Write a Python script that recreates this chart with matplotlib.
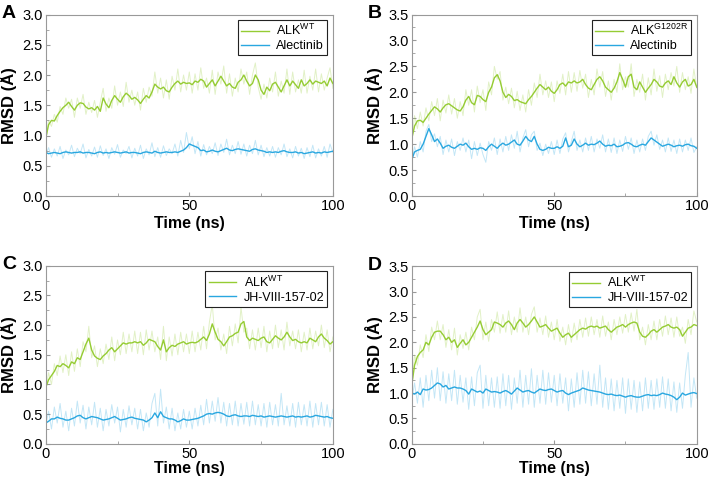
import numpy as np
import matplotlib.pyplot as plt
from matplotlib.ticker import MultipleLocator

plt.rcParams['font.family'] = ['Liberation Sans', 'DejaVu Sans']

# Smoothed (dark) traces, one value per ns, 0..100 ns
a_wt_avg = [0.95, 1.18, 1.25, 1.24, 1.33, 1.40, 1.46, 1.50, 1.55, 1.48,
            1.42, 1.50, 1.54, 1.53, 1.47, 1.44, 1.46, 1.42, 1.48, 1.40,
            1.62, 1.52, 1.46, 1.58, 1.66, 1.60, 1.55, 1.64, 1.70, 1.66,
            1.60, 1.63, 1.59, 1.53, 1.60, 1.66, 1.62, 1.72, 1.85, 1.80,
            1.77, 1.80, 1.74, 1.72, 1.80, 1.86, 1.90, 1.85, 1.88, 1.86,
            1.87, 1.84, 1.90, 1.88, 1.93, 1.90, 1.80, 1.86, 1.92, 1.82,
            1.90, 1.98, 1.90, 1.82, 1.86, 1.80, 1.78, 1.88, 1.92, 2.00,
            1.90, 1.82, 1.86, 2.00, 1.92, 1.75, 1.68, 1.80, 1.74, 1.85,
            1.88, 1.80, 1.72, 1.82, 1.92, 1.82, 1.90, 1.84, 1.78, 1.92,
            1.82, 1.86, 1.92, 1.85, 1.90, 1.88, 1.86, 1.90, 1.82, 1.95,
            1.86]
a_lig_avg = [0.72, 0.70, 0.71, 0.72, 0.71, 0.70, 0.72, 0.73, 0.72, 0.71,
             0.72, 0.72, 0.73, 0.71, 0.72, 0.72, 0.71, 0.70, 0.72, 0.73,
             0.71, 0.72, 0.71, 0.72, 0.73, 0.72, 0.71, 0.72, 0.73, 0.71,
             0.72, 0.72, 0.71, 0.70, 0.72, 0.73, 0.72, 0.71, 0.74, 0.72,
             0.71, 0.72, 0.73, 0.72, 0.72, 0.73, 0.72, 0.74, 0.76, 0.80,
             0.86, 0.84, 0.82, 0.80, 0.75, 0.76, 0.73, 0.74, 0.76, 0.74,
             0.73, 0.75, 0.77, 0.79, 0.76, 0.75, 0.77, 0.78, 0.77, 0.76,
             0.75, 0.74, 0.77, 0.78, 0.76, 0.75, 0.74, 0.72, 0.73, 0.72,
             0.73, 0.72, 0.74, 0.75, 0.73, 0.72, 0.72, 0.73, 0.71, 0.72,
             0.70, 0.71, 0.72, 0.73, 0.71, 0.72, 0.71, 0.73, 0.72, 0.73,
             0.74]
b_mut_avg = [1.10, 1.35, 1.45, 1.46, 1.42, 1.50, 1.58, 1.65, 1.72, 1.68,
             1.62, 1.70, 1.76, 1.78, 1.74, 1.70, 1.66, 1.64, 1.72, 1.85,
             1.92, 1.80, 1.76, 1.94, 1.92, 1.86, 1.82, 2.00, 2.10, 2.28,
             2.34, 2.22, 2.00, 1.90, 1.96, 1.92, 1.84, 1.86, 1.82, 1.80,
             1.78, 1.86, 1.92, 2.00, 2.08, 2.15, 2.10, 2.05, 2.10, 2.02,
             1.98, 2.05, 2.15, 2.18, 2.12, 2.20, 2.18, 2.22, 2.18, 2.20,
             2.25, 2.15, 2.08, 2.05, 2.15, 2.25, 2.30, 2.22, 2.10, 2.05,
             2.00, 2.08, 2.20, 2.38, 2.25, 2.10, 2.30, 2.35, 2.10, 2.05,
             2.20, 2.10, 2.00, 2.08, 2.15, 2.25, 2.20, 2.12, 2.10, 2.18,
             2.22, 2.15, 2.30, 2.18, 2.10, 2.20, 2.25, 2.12, 2.15, 2.25,
             2.10]
b_lig_avg = [0.70, 0.85, 0.88, 0.90, 1.00, 1.15, 1.30, 1.18, 1.05, 1.10,
             1.02, 0.92, 0.96, 0.98, 0.94, 0.92, 0.96, 1.00, 0.98, 1.02,
             0.95, 0.90, 0.92, 0.90, 0.93, 0.92, 0.88, 0.95, 1.00, 0.96,
             0.92, 0.98, 1.02, 0.98, 1.00, 1.04, 1.08, 1.00, 0.98, 1.06,
             1.15, 1.08, 1.05, 1.15, 1.00, 0.90, 0.88, 0.90, 0.94, 0.92,
             0.92, 0.95, 0.92, 0.96, 1.12, 0.95, 0.98, 1.10, 1.00, 0.95,
             0.98, 1.02, 0.98, 1.00, 0.99, 1.02, 1.06, 1.00, 0.96, 0.98,
             0.97, 1.00, 0.95, 0.96, 0.98, 1.02, 1.03, 1.00, 0.96, 0.95,
             0.98, 1.00, 0.98, 1.05, 1.12, 1.08, 1.04, 1.00, 0.96, 0.98,
             1.00, 0.98, 0.95, 0.97, 0.98, 0.96, 0.99, 1.00, 0.97, 0.96,
             0.92]
c_wt_avg = [0.95, 1.08, 1.15, 1.22, 1.32, 1.30, 1.35, 1.32, 1.28, 1.38,
            1.35, 1.45, 1.42, 1.55, 1.68, 1.78, 1.58, 1.48, 1.44, 1.42,
            1.48, 1.52, 1.58, 1.62, 1.55, 1.60, 1.65, 1.70, 1.68, 1.70,
            1.70, 1.72, 1.70, 1.72, 1.66, 1.70, 1.76, 1.74, 1.72, 1.64,
            1.58, 1.75, 1.55, 1.62, 1.66, 1.64, 1.68, 1.70, 1.72, 1.68,
            1.70, 1.71, 1.70, 1.72, 1.76, 1.80, 1.74, 1.85, 2.02, 1.88,
            1.76, 1.72, 1.65, 1.72, 1.80, 1.82, 1.86, 1.88, 2.02, 2.06,
            1.80, 1.74, 1.78, 1.76, 1.74, 1.78, 1.80, 1.72, 1.70, 1.76,
            1.82, 1.78, 1.75, 1.80, 1.88, 1.80, 1.74, 1.76, 1.72, 1.70,
            1.72, 1.70, 1.78, 1.75, 1.72, 1.80, 1.85, 1.78, 1.74, 1.68,
            1.72]
c_lig_avg = [0.35, 0.38, 0.42, 0.42, 0.45, 0.43, 0.42, 0.40, 0.40, 0.42,
             0.44, 0.47, 0.48, 0.44, 0.42, 0.44, 0.46, 0.45, 0.44, 0.42,
             0.40, 0.41, 0.42, 0.44, 0.46, 0.43, 0.40, 0.41, 0.42, 0.44,
             0.45, 0.43, 0.42, 0.41, 0.40, 0.37, 0.40, 0.44, 0.52, 0.44,
             0.54, 0.46, 0.44, 0.42, 0.42, 0.40, 0.37, 0.39, 0.42, 0.40,
             0.40, 0.41, 0.42, 0.43, 0.45, 0.47, 0.50, 0.51, 0.50, 0.52,
             0.53, 0.52, 0.50, 0.47, 0.46, 0.48, 0.49, 0.47, 0.46, 0.47,
             0.47, 0.46, 0.48, 0.47, 0.46, 0.47, 0.45, 0.46, 0.47, 0.46,
             0.45, 0.46, 0.47, 0.46, 0.45, 0.46, 0.47, 0.45, 0.46, 0.45,
             0.46, 0.47, 0.45, 0.46, 0.48, 0.47, 0.46, 0.45, 0.46, 0.44,
             0.43]
d_wt_avg = [1.15, 1.55, 1.72, 1.80, 1.85, 2.00, 1.95, 2.10, 2.20, 2.22,
            2.22, 2.15, 2.05, 2.10, 2.00, 2.05, 1.90, 1.98, 2.05, 1.95,
            2.00, 2.10, 2.20, 2.30, 2.42, 2.25, 2.15, 2.20, 2.25, 2.40,
            2.38, 2.35, 2.30, 2.38, 2.42, 2.35, 2.25, 2.38, 2.45, 2.38,
            2.30, 2.35, 2.42, 2.50, 2.40, 2.30, 2.32, 2.35, 2.28, 2.22,
            2.25, 2.28, 2.18, 2.10, 2.15, 2.18, 2.10, 2.15, 2.20, 2.25,
            2.28, 2.26, 2.30, 2.32, 2.30, 2.32, 2.28, 2.30, 2.32, 2.25,
            2.20, 2.25, 2.30, 2.32, 2.35, 2.30, 2.35, 2.38, 2.40, 2.38,
            2.20, 2.12, 2.10, 2.15, 2.22, 2.25, 2.20, 2.25, 2.30, 2.32,
            2.35, 2.30, 2.28, 2.30, 2.25, 2.12, 2.20, 2.28, 2.30, 2.35,
            2.33]
d_lig_avg = [1.00, 0.98, 1.02, 0.97, 1.08, 1.06, 1.07, 1.10, 1.15, 1.20,
             1.18, 1.12, 1.15, 1.08, 1.10, 1.12, 1.10, 1.10, 1.08, 1.05,
             0.98, 1.08, 1.05, 1.02, 1.04, 1.00, 1.08, 1.05, 1.02, 1.03,
             1.02, 1.00, 1.03, 1.05, 1.02, 0.98, 1.04, 1.10, 1.06, 1.02,
             1.04, 1.05, 1.02, 1.00, 1.04, 1.08, 1.06, 1.05, 1.07, 1.08,
             1.05, 1.02, 1.04, 1.05, 1.00, 0.97, 1.00, 1.02, 1.04, 1.06,
             1.10, 1.08, 1.06, 1.05, 1.04, 1.03, 1.02, 1.00, 0.98, 0.97,
             0.98, 0.96, 0.95, 0.96, 0.94, 0.92, 0.94, 0.95, 0.93, 0.92,
             0.92, 0.94, 0.96, 0.97, 0.95, 0.96, 0.95, 0.97, 1.00, 0.98,
             0.97, 0.95, 0.92, 0.87, 0.92, 1.00, 0.96, 0.98, 1.00, 1.01,
             0.99]

# Raw (faint) traces, one frame per ns
a_wt_raw = [0.90, 1.25, 1.15, 1.35, 1.22, 1.48, 1.35, 1.62, 1.45, 1.60,
            1.30, 1.62, 1.45, 1.68, 1.35, 1.55, 1.38, 1.58, 1.30, 1.55,
            1.78, 1.40, 1.62, 1.45, 1.82, 1.50, 1.72, 1.48, 1.88, 1.55,
            1.75, 1.50, 1.72, 1.42, 1.78, 1.55, 1.80, 1.65, 2.05, 1.70,
            1.95, 1.62, 1.92, 1.60, 1.98, 1.75, 2.10, 1.72, 2.00, 1.75,
            2.05, 1.70, 2.02, 1.75, 2.12, 1.78, 1.95, 1.70, 2.08, 1.68,
            2.05, 1.85, 2.15, 1.70, 2.02, 1.65, 1.95, 1.72, 2.10, 1.85,
            2.05, 1.68, 2.00, 2.20, 1.80, 1.60, 1.85, 1.62, 1.95, 1.72,
            2.05, 1.65, 1.90, 1.70, 2.10, 1.68, 2.05, 1.72, 1.92, 1.70,
            2.08, 1.70, 1.98, 1.75, 2.10, 1.72, 2.02, 1.75, 1.95, 2.12,
            1.78]
a_lig_raw = [0.68, 0.80, 0.64, 0.78, 0.66, 0.82, 0.62, 0.76, 0.68, 0.84,
             0.65, 0.79, 0.70, 0.86, 0.63, 0.77, 0.66, 0.81, 0.64, 0.83,
             0.67, 0.78, 0.62, 0.80, 0.69, 0.85, 0.64, 0.76, 0.70, 0.82,
             0.63, 0.79, 0.66, 0.84, 0.62, 0.78, 0.68, 0.88, 0.65, 0.80,
             0.64, 0.83, 0.67, 0.78, 0.70, 0.86, 0.66, 0.92, 0.72, 1.05,
             0.78, 0.98, 0.70, 0.90, 0.66, 0.85, 0.68, 0.82, 0.70, 0.88,
             0.67, 0.86, 0.72, 0.94, 0.68, 0.84, 0.70, 0.90, 0.69, 0.86,
             0.66, 0.84, 0.70, 0.92, 0.68, 0.84, 0.65, 0.80, 0.66, 0.82,
             0.64, 0.80, 0.68, 0.86, 0.65, 0.78, 0.63, 0.82, 0.66, 0.79,
             0.62, 0.80, 0.65, 0.84, 0.63, 0.78, 0.66, 0.82, 0.64, 0.86,
             0.72]
b_mut_raw = [1.05, 1.55, 1.30, 1.62, 1.35, 1.70, 1.45, 1.82, 1.55, 1.88,
             1.45, 1.85, 1.60, 1.95, 1.58, 1.88, 1.50, 1.82, 1.55, 2.05,
             1.75, 2.05, 1.62, 2.12, 1.80, 2.05, 1.65, 2.20, 1.95, 2.50,
             2.25, 2.40, 1.85, 2.10, 1.78, 2.08, 1.70, 2.02, 1.65, 1.95,
             1.62, 2.05, 1.75, 2.18, 1.90, 2.35, 1.95, 2.22, 1.90, 2.20,
             1.82, 2.22, 1.98, 2.35, 1.95, 2.40, 2.00, 2.38, 2.02, 2.42,
             2.08, 2.35, 1.90, 2.25, 1.95, 2.45, 2.10, 2.40, 1.92, 2.22,
             1.85, 2.25, 2.00, 2.55, 2.05, 2.30, 2.10, 2.55, 1.92, 2.25,
             2.00, 2.35, 1.85, 2.28, 1.95, 2.45, 2.02, 2.32, 1.90, 2.35,
             2.05, 2.38, 2.12, 2.50, 2.00, 2.38, 2.05, 2.30, 1.98, 2.45,
             2.08]
b_lig_raw = [0.65, 0.95, 0.75, 1.05, 0.85, 1.25, 1.38, 1.05, 1.20, 0.95,
             1.15, 0.80, 1.08, 0.85, 1.10, 0.78, 1.05, 0.88, 1.12, 0.85,
             1.08, 0.72, 1.05, 0.78, 1.02, 0.80, 0.65, 1.05, 0.88, 1.12,
             0.80, 1.10, 0.85, 1.15, 0.88, 1.18, 0.92, 1.25, 0.85, 1.12,
             1.28, 0.95, 1.18, 1.25, 0.88, 1.02, 0.78, 1.00, 0.82, 1.05,
             0.80, 1.08, 0.82, 1.10, 1.22, 0.85, 1.05, 1.25, 0.88, 1.08,
             0.85, 1.12, 0.88, 1.15, 0.85, 1.10, 0.92, 1.18, 0.85, 1.10,
             0.84, 1.12, 0.82, 1.08, 0.86, 1.15, 0.90, 1.12, 0.82, 1.08,
             0.85, 1.10, 0.88, 1.15, 1.25, 0.98, 1.18, 0.90, 1.08, 0.85,
             1.12, 0.86, 1.08, 0.82, 1.10, 0.85, 1.08, 0.88, 1.12, 0.84,
             0.95]
c_wt_raw = [0.90, 1.20, 1.00, 1.35, 1.15, 1.48, 1.20, 1.50, 1.15, 1.55,
            1.22, 1.60, 1.30, 1.72, 1.55, 1.98, 1.45, 1.65, 1.30, 1.60,
            1.35, 1.68, 1.42, 1.80, 1.40, 1.75, 1.50, 1.88, 1.52, 1.85,
            1.55, 1.90, 1.52, 1.88, 1.50, 1.92, 1.58, 1.90, 1.55, 1.80,
            1.42, 1.98, 1.40, 1.80, 1.48, 1.85, 1.50, 1.88, 1.55, 1.85,
            1.52, 1.90, 1.55, 1.88, 1.58, 1.98, 1.60, 2.05, 2.35, 1.75,
            1.95, 1.58, 1.85, 1.52, 1.98, 1.65, 2.02, 1.70, 2.30, 1.88,
            1.95, 1.60, 1.92, 1.58, 1.95, 1.62, 1.98, 1.55, 1.90, 1.60,
            2.00, 1.62, 1.92, 1.58, 2.05, 1.65, 1.90, 1.60, 1.92, 1.55,
            1.88, 1.58, 1.95, 1.60, 1.90, 1.65, 2.00, 1.62, 1.92, 1.55,
            1.80]
c_lig_raw = [0.30, 0.55, 0.25, 0.62, 0.35, 0.68, 0.28, 0.55, 0.22, 0.60,
             0.30, 0.72, 0.35, 0.65, 0.25, 0.62, 0.32, 0.70, 0.28, 0.60,
             0.22, 0.58, 0.30, 0.66, 0.35, 0.62, 0.20, 0.58, 0.28, 0.64,
             0.32, 0.60, 0.25, 0.58, 0.22, 0.52, 0.28, 0.68, 0.85, 0.30,
             0.92, 0.35, 0.62, 0.25, 0.60, 0.22, 0.52, 0.25, 0.58, 0.28,
             0.55, 0.25, 0.60, 0.30, 0.65, 0.32, 0.75, 0.35, 0.72, 0.38,
             0.78, 0.35, 0.70, 0.30, 0.68, 0.32, 0.72, 0.30, 0.68, 0.33,
             0.70, 0.30, 0.72, 0.32, 0.66, 0.30, 0.68, 0.28, 0.70, 0.32,
             0.66, 0.30, 0.85, 0.32, 0.64, 0.30, 0.68, 0.28, 0.70, 0.32,
             0.66, 0.30, 0.72, 0.28, 0.68, 0.32, 0.70, 0.30, 0.66, 0.28,
             0.58]
d_wt_raw = [1.10, 1.75, 1.55, 1.95, 1.70, 2.15, 1.82, 2.30, 2.05, 2.42,
            2.05, 2.35, 1.90, 2.25, 1.85, 2.28, 1.75, 2.15, 1.88, 2.20,
            1.85, 2.30, 2.05, 2.50, 2.65, 2.05, 2.40, 2.02, 2.45, 2.20,
            2.60, 2.18, 2.55, 2.20, 2.62, 2.15, 2.50, 2.20, 2.68, 2.20,
            2.50, 2.15, 2.55, 2.70, 2.20, 2.48, 2.15, 2.52, 2.10, 2.40,
            2.05, 2.45, 2.02, 2.30, 1.95, 2.35, 2.00, 2.38, 2.05, 2.45,
            2.10, 2.48, 2.12, 2.50, 2.15, 2.45, 2.10, 2.52, 2.12, 2.40,
            2.05, 2.45, 2.15, 2.50, 2.18, 2.55, 2.20, 2.58, 2.22, 2.65,
            2.05, 2.30, 1.95, 2.35, 2.05, 2.42, 2.05, 2.45, 2.12, 2.52,
            2.15, 2.48, 2.10, 2.50, 2.12, 2.30, 1.98, 2.45, 2.15, 2.62,
            2.40]
d_lig_raw = [0.85, 1.20, 0.80, 1.30, 0.72, 1.35, 0.85, 1.45, 0.90, 1.50,
             0.85, 1.42, 0.80, 1.38, 0.85, 1.45, 0.78, 1.35, 0.82, 1.30,
             0.68, 1.32, 0.75, 1.40, 1.55, 0.70, 1.35, 0.75, 1.30, 0.72,
             1.32, 0.70, 1.38, 0.75, 1.35, 0.68, 1.30, 0.80, 1.45, 0.72,
             1.35, 0.78, 1.48, 0.72, 1.35, 0.80, 1.45, 0.78, 1.40, 0.82,
             1.35, 0.75, 1.38, 0.80, 1.30, 0.65, 1.28, 0.72, 1.40, 0.78,
             1.45, 0.80, 1.42, 0.75, 1.38, 0.78, 1.55, 0.72, 1.30, 0.68,
             1.28, 0.65, 1.25, 0.70, 1.30, 0.60, 1.28, 0.68, 1.25, 0.62,
             1.22, 0.65, 1.30, 0.70, 1.25, 0.68, 1.28, 0.72, 1.32, 0.70,
             1.28, 0.65, 1.22, 0.62, 1.20, 0.70, 1.35, 1.80, 0.72, 1.30,
             0.90]

panels = [
    ('A', 'ALK$^{\\mathregular{WT}}$', 'Alectinib', 3.0,
     a_wt_avg, a_wt_raw, a_lig_avg, a_lig_raw),
    ('B', 'ALK$^{\\mathregular{G1202R}}$', 'Alectinib', 3.5,
     b_mut_avg, b_mut_raw, b_lig_avg, b_lig_raw),
    ('C', 'ALK$^{\\mathregular{WT}}$', 'JH-VIII-157-02', 3.0,
     c_wt_avg, c_wt_raw, c_lig_avg, c_lig_raw),
    ('D', 'ALK$^{\\mathregular{WT}}$', 'JH-VIII-157-02', 3.5,
     d_wt_avg, d_wt_raw, d_lig_avg, d_lig_raw),
]

green = '#95cc33'
blue = '#29a7e0'

fig = plt.figure(figsize=(7.09, 4.84), dpi=100)
rects = [[0.0645, 0.595, 0.405, 0.375],
         [0.5807, 0.595, 0.402, 0.375],
         [0.0645, 0.083, 0.405, 0.368],
         [0.5807, 0.083, 0.402, 0.367]]
xpads = [2, 2, 0, 0]

for rect, xpad, (letter, lab1, lab2, ymax, p_avg, p_raw, l_avg, l_raw) in zip(rects, xpads, panels):
    ax = fig.add_axes(rect)
    ax.plot(np.linspace(0, 100, len(p_raw)), p_raw, color=green, lw=0.7, alpha=0.28)
    ax.plot(np.linspace(0, 100, len(l_raw)), l_raw, color=blue, lw=0.7, alpha=0.28)
    ax.plot(np.linspace(0, 100, len(p_avg)), p_avg, color=green, lw=1.0, label=lab1)
    ax.plot(np.linspace(0, 100, len(l_avg)), l_avg, color=blue, lw=1.0, label=lab2)
    ax.set_xlim(0, 100)
    ax.set_ylim(0, ymax)
    ax.set_xticks([0, 50, 100])
    ax.xaxis.set_minor_locator(MultipleLocator(25))
    ax.yaxis.set_major_locator(MultipleLocator(0.5))
    ax.yaxis.set_minor_locator(MultipleLocator(0.25))
    ax.yaxis.set_major_formatter(plt.FormatStrFormatter('%.1f'))
    ax.tick_params(which='both', direction='in', color='#999999', labelsize=10.5, pad=2)
    ax.tick_params(which='major', length=3)
    ax.tick_params(which='minor', length=2)
    for s in ax.spines.values():
        s.set_color('#999999')
        s.set_linewidth(0.8)
    ax.set_xlabel('Time (ns)', fontsize=11.5, fontweight='bold', labelpad=xpad)
    ax.set_ylabel('RMSD (Å)', fontsize=12, fontweight='bold', labelpad=4)
    leg = ax.legend(loc='upper right', fontsize=9, fancybox=False, framealpha=1,
                    edgecolor='#222222', borderaxespad=0.45, handlelength=2.2,
                    handletextpad=0.6, labelspacing=0.15, borderpad=0.25)
    leg.get_frame().set_linewidth(0.8)
    fig.text(rect[0] - 0.062, rect[1] + rect[3] + 0.002, letter, fontsize=14,
             fontweight='bold', ha='left', va='center')

fig.savefig('out.png', dpi=100)
